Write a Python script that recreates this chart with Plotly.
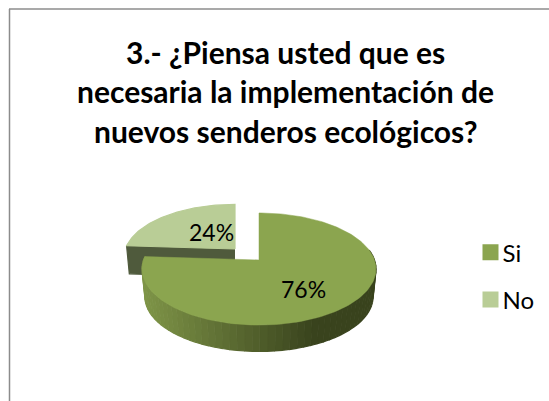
import numpy as np
import plotly.graph_objects as go

# ---- data ----
categories = ["Si", "No"]
values = [76, 24]
labels = ["76%", "24%"]
title_lines = ["3.- ¿Piensa usted que es",
               "necesaria la implementación de",
               "nuevos senderos ecológicos?"]

# ---- style ----
FACE = ["#8BA54F", "#B9CD96"]
FONT = "Lato"
W, H = 549, 401
PERSP = 0.161          # foreshortening of the tilted disc
RX, RY = 115.5, 54.6   # projected radii of the main disc
DEPTH = 28
WALL_SCALE = 0.975
HUBS = [(259, 260), (235, 249)]
SCALES = [1.0, 0.95]


def project(theta, hub, scale, radius=1.0, lower=False):
    """Clockwise angle from 12 o'clock on the disc -> page position."""
    x = radius * np.sin(theta)
    y = radius * np.cos(theta)
    w = 1 + PERSP * y
    s = scale * (WALL_SCALE if lower else 1.0)
    px = hub[0] + s * RX * x / w
    py = hub[1] - s * RY * y / w + (DEPTH if lower else 0)
    return px, py


def shade(t, a, b):
    a = np.array([int(a[i:i + 2], 16) for i in (1, 3, 5)])
    b = np.array([int(b[i:i + 2], 16) for i in (1, 3, 5)])
    c = a + (b - a) * t
    return "rgb(%d,%d,%d)" % tuple(c)


def poly(xs, ys, color):
    return go.Scatter(x=xs, y=ys, mode="lines", fill="toself", fillcolor=color,
                      line=dict(color=color, width=1.2), showlegend=False,
                      hoverinfo="skip")


fractions = np.array(values) / sum(values)
edges = np.concatenate([[0], np.cumsum(fractions)]) * 2 * np.pi

fig = go.Figure()

# second slice (No) is drawn first: it sits behind the main slice
i = 1
th = np.linspace(edges[i], edges[i + 1], 60)
hub, sc = HUBS[i], SCALES[i]
ox, oy = project(edges[i], hub, sc)
lx, ly = project(edges[i], hub, sc, lower=True)
fig.add_trace(poly([hub[0], ox, lx, hub[0]],
                   [hub[1], oy, ly, hub[1] + DEPTH], "#4F5A3C"))
px, py = project(th, hub, sc)
fig.add_trace(poly(np.r_[hub[0], px, hub[0]], np.r_[hub[1], py, hub[1]], FACE[i]))

# main slice (Si): shaded outer wall, then the top face
i = 0
th = np.linspace(edges[i], edges[i + 1], 200)
hub, sc = HUBS[i], SCALES[i]
wall = np.linspace(np.pi * 0.44, edges[i + 1], 61)
for a, b in zip(wall[:-1], wall[1:]):
    xm, _ = project((a + b) / 2, hub, sc)
    t = np.clip((315 - xm) / (315 - 143), 0, 1)
    col = shade(t, "#39431D", "#7F9548")
    x1, y1 = project(np.array([a, b]), hub, sc)
    x2, y2 = project(np.array([b, a]), hub, sc, lower=True)
    fig.add_trace(poly(np.r_[x1, x2], np.r_[y1, y2], col))
px, py = project(th, hub, sc)
fig.add_trace(go.Scatter(x=np.r_[hub[0], px, hub[0]], y=np.r_[hub[1], py, hub[1]],
                         mode="lines", fill="toself", fillcolor=FACE[i],
                         line=dict(color=FACE[i], width=0.5), showlegend=False,
                         hoverinfo="skip"))

# legend entries
for name, color in zip(categories, FACE):
    fig.add_trace(go.Scatter(x=[None], y=[None], mode="markers", name=name,
                             legendgroup=name,
                             marker=dict(symbol="square", size=16, color=color)))

# value labels
label_pos = [(303, 289), (211, 232)]
for text, (x, y) in zip(labels, label_pos):
    fig.add_annotation(x=x, y=y, text=text, showarrow=False,
                       font=dict(family=FONT, size=23, color="#000000"))

# title, one annotation per line for the wide line spacing
for line, y in zip(title_lines, [52, 91, 131]):
    fig.add_annotation(x=285.5, y=y, text="<b>%s</b>" % line, showarrow=False,
                       font=dict(family=FONT, size=30, color="#000000"))

# chart frame, running off the page on the right and at the bottom
frame = dict(type="line", line=dict(color="#8C8C8C", width=1.5))
fig.add_shape(x0=9.5, x1=9.5, y0=9, y1=H, **frame)
fig.add_shape(x0=9, x1=W, y0=9, y1=9, **frame)

fig.update_layout(
    width=W, height=H, margin=dict(l=0, r=0, t=0, b=0),
    paper_bgcolor="#FFFFFF", plot_bgcolor="#FFFFFF",
    xaxis=dict(range=[0, W], visible=False, fixedrange=True),
    yaxis=dict(range=[H, 0], visible=False, fixedrange=True),
    legend=dict(x=0.857, y=0.426, xanchor="left", yanchor="top",
                font=dict(family=FONT, size=24, color="#000000"),
                tracegroupgap=13, itemwidth=30, bgcolor="rgba(0,0,0,0)"),
)
tighten = ("document.body.style.margin='0';document.body.style.overflow='hidden';"
           "function t(){document.querySelectorAll('.legendtext').forEach(function(e){"
           "e.setAttribute('x','32');});}t();setTimeout(t,50);setTimeout(t,300);")
fig.write_html("out.html", config=dict(displayModeBar=False), post_script=tighten)
